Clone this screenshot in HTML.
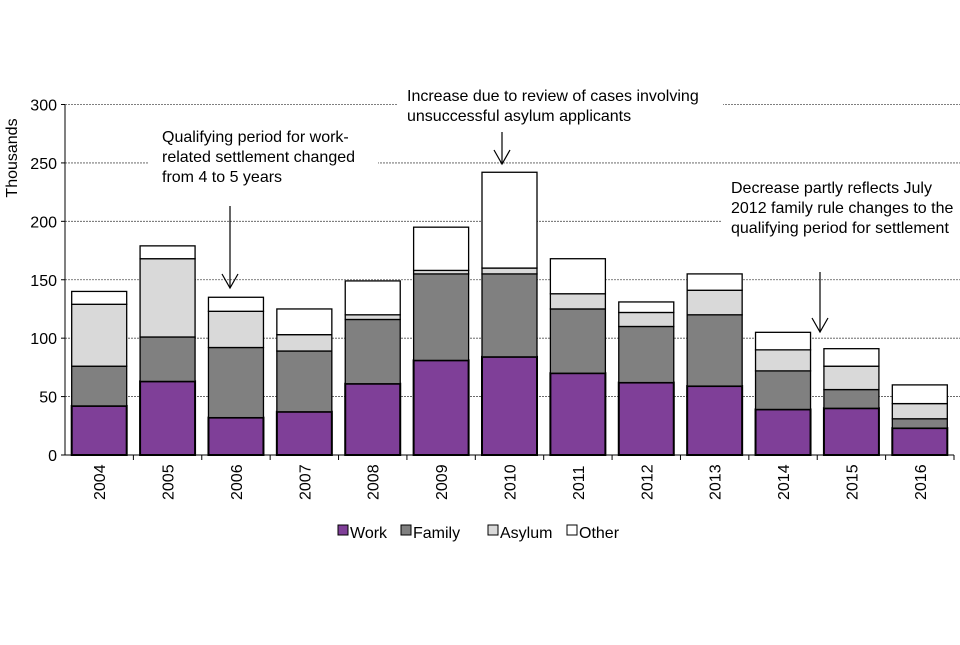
<!DOCTYPE html>
<html><head><meta charset="utf-8"><style>
body{margin:0;background:#fff;font-family:"Liberation Sans",Arial,sans-serif}
svg text{font-family:"Liberation Sans",Arial,sans-serif}
</style></head><body>
<svg id="chart" width="960" height="640" viewBox="0 0 960 640">
<g id="grid"></g>
<g id="bars"></g>
<g id="axes"></g>
<g id="annot"></g>
<g id="legend"></g>
</svg>
<script>
const years=["2004","2005","2006","2007","2008","2009","2010","2011","2012","2013","2014","2015","2016"];
const work=[42,63,32,37,61,81,84,70,62,59,39,40,23];
const family=[34,38,60,52,55,74,71,55,48,61,33,16,8];
const asylum=[53,67,31,14,4,3,5,13,12,21,18,20,13];
const other=[11,11,12,22,29,37,82,30,9,14,15,15,16];
const yTicks=[0,50,100,150,200,250,300];
const seriesNames=["Work","Family","Asylum","Other"];
const colors=["#7f3f98","#808080","#d9d9d9","#ffffff"];
const NS="http://www.w3.org/2000/svg";
const X0=65,X1=954,GX1=960,Y0=455,Y300=104.5;
const band=(X1-X0)/years.length;
function y(v){return Y0-(v/300)*(Y0-Y300);}
function xc(i){return X0+band*(i+0.5);}
function mk(t,a,p){const e=document.createElementNS(NS,t);for(const k in a)e.setAttribute(k,a[k]);p.appendChild(e);return e;}
const grid=document.getElementById('grid'),bars=document.getElementById('bars'),axes=document.getElementById('axes'),annot=document.getElementById('annot'),legend=document.getElementById('legend');
yTicks.forEach(t=>{
 if(t>0){const l=mk('line',{x1:X0,x2:GX1,y1:y(t),y2:y(t),stroke:'#555','stroke-width':0.8,'stroke-dasharray':'2,1'},grid);
 
 }
 const tx=mk('text',{x:X0-8,y:y(t)+6,'text-anchor':'end','font-size':16,fill:'#000'},axes);tx.textContent=t;
 
 
 mk('line',{x1:X0-4,x2:X0,y1:y(t),y2:y(t),stroke:'#000'},axes);
});
const series=[work,family,asylum,other];
years.forEach((yr,i)=>{
 let base=0;const w=55,x=xc(i)-w/2;
 series.forEach((s,k)=>{
  const r=mk('rect',{x:x,y:y(base+s[i]),width:w,height:y(base)-y(base+s[i]),fill:colors[k],stroke:'#000','stroke-width':k==0?2:1.3},bars);
  
  
  base+=s[i];
 });
 const tx=mk('text',{transform:`translate(${xc(i)+6},500) rotate(-90)`,'font-size':16,fill:'#000'},axes);tx.textContent=yr;
 
 
 mk('line',{x1:X0+band*(i+1),x2:X0+band*(i+1),y1:Y0,y2:Y0+5,stroke:'#000'},axes);
});
mk('line',{x1:X0,x2:X0,y1:Y300,y2:Y0,stroke:'#000'},axes);
mk('line',{x1:X0,x2:X1,y1:Y0,y2:Y0,stroke:'#000'},axes);
const yt=mk('text',{transform:'translate(17,158) rotate(-90)','font-size':16,'text-anchor':'middle'},axes);yt.textContent="Thousands";


[[148,118,230,72],[398,80,325,48],[722,170,238,75]].forEach(b=>mk('rect',{x:b[0],y:b[1],width:b[2],height:b[3],fill:'#fff'},annot));
function lines(x,y0,arr){arr.forEach((s,j)=>{const t=mk('text',{x:x,y:y0+j*20,'font-size':16},annot);t.textContent=s;});}
lines(162,142,["Qualifying period for work-","related settlement changed","from 4 to 5 years"]);
lines(407,101,["Increase due to review  of cases involving","unsuccessful asylum applicants"]);
lines(731,193,["Decrease partly reflects July","2012 family rule changes to the","qualifying period for settlement"]);
[[230,206,288],[502,132,164],[820,272,332]].forEach(a=>{
 mk('line',{x1:a[0],x2:a[0],y1:a[1],y2:a[2],stroke:'#000','stroke-width':1.2},annot);
 mk('polyline',{points:`${a[0]-8},${a[2]-14} ${a[0]},${a[2]} ${a[0]+8},${a[2]-14}`,fill:'none',stroke:'#000','stroke-width':1.2},annot);
});
const lx=[338,401,488,567];
seriesNames.forEach((n,k)=>{
 const r=mk('rect',{x:lx[k],y:525,width:10,height:10,fill:colors[k],stroke:'#000'},legend);
 
 
 const t=mk('text',{x:lx[k]+12,y:538,'font-size':16},legend);t.textContent=n;
 
 
});
</script>
</body></html>
